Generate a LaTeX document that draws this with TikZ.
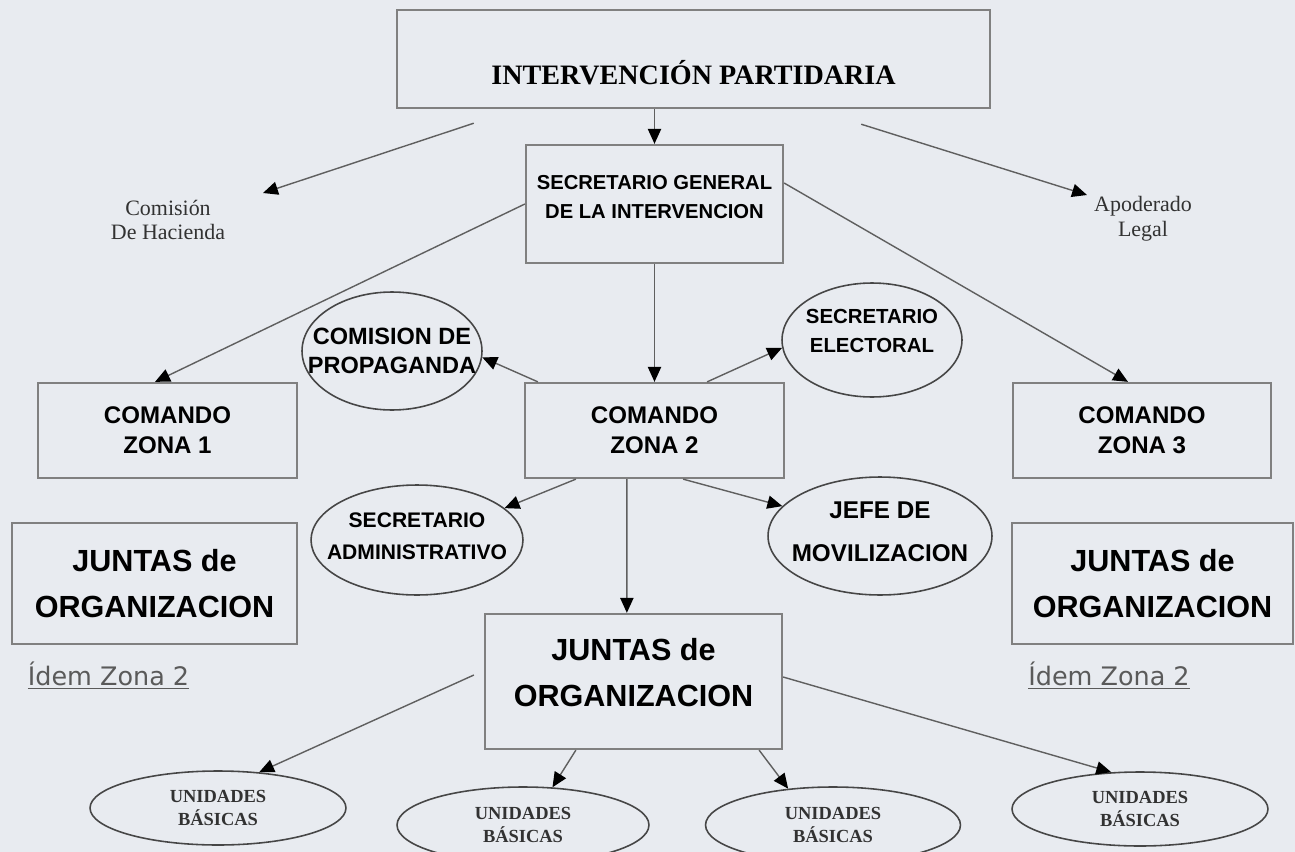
\documentclass[tikz,border=0pt]{standalone}
\usepackage{fontspec}
\setmainfont{Liberation Serif}
\setsansfont{Liberation Sans}
\newfontfamily\idemfont{DejaVu Sans}
\usetikzlibrary{shapes.geometric, arrows.meta, positioning}
\definecolor{fondo}{RGB}{232, 235, 240}
\definecolor{bordecaja}{RGB}{128, 128, 128}
\definecolor{bordeelipse}{RGB}{70, 70, 70}
\definecolor{lineagris}{RGB}{95, 95, 95}
\definecolor{textogris}{RGB}{50, 50, 50}
\definecolor{idemgris}{RGB}{90, 90, 90}
\tikzset{
    % Title box (serif)
    title box/.style={
        rectangle, draw=bordecaja, line width=1.4pt, fill=fondo, inner sep=0pt,
        font=\rmfamily\bfseries\fontsize{16}{19}\selectfont,
        text height=28.8pt, text depth=0pt
    },
    % Command boxes
    zone box/.style={
        rectangle, draw=bordecaja, line width=1.3pt, fill=fondo, inner sep=0pt,
        align=center, font=\sffamily\bfseries\fontsize{13.7}{17}\selectfont
    },
    % Juntas de organizacion
    board box/.style={
        rectangle, draw=bordecaja, line width=1.3pt, fill=fondo, inner sep=0pt,
        align=center, font=\sffamily\bfseries\fontsize{17.4}{26}\selectfont
    },
    % Secretaries around zona 2 (text given as a centred label)
    side ellipse/.style={
        ellipse, draw=bordeelipse, line width=0.9pt, fill=fondo, inner sep=0pt
    },
    ellipse text/.style={
        align=center, inner sep=0pt
    },
    % Unidades basicas
    unit ellipse/.style={
        ellipse, draw=bordeelipse, line width=0.9pt, fill=fondo, inner sep=0pt,
        align=center, text=textogris,
        font=\rmfamily\bfseries\fontsize{10.5}{13}\selectfont
    },
    % Small serif labels
    side label/.style={
        align=center, text=textogris, inner sep=0pt,
        font=\rmfamily\fontsize{12.5}{14}\selectfont
    },
    % Idem labels
    idem label/.style={
        text=idemgris, inner sep=0pt, font=\idemfont\fontsize{14.5}{17}\selectfont
    },
    % Arrows
    flow arrow/.style={
        -{Triangle[length=8.5pt, width=7.5pt, color=black]}, draw=lineagris, line width=0.8pt
    }
}

\begin{document}
\begin{tikzpicture}[x=0.02cm, y=-0.02cm]

    % Background
    \fill[fondo] (0,0) rectangle (1295,852);
    \useasboundingbox (0,0) rectangle (1295,852);

    % Title
    \node[title box, minimum width=11.86cm, minimum height=1.96cm] (intervencion) at (693.5,59) {INTERVENCIÓN PARTIDARIA};

    % Secretario general
    \node[zone box, minimum width=5.14cm, minimum height=2.36cm,
          label={[ellipse text, yshift=0.13cm, font=\sffamily\bfseries\fontsize{11.5}{16.5}\selectfont]center:{SECRETARIO GENERAL\\DE LA INTERVENCION}}] (secretario) at (654.5,204) {};

    % Side labels
    \node[side label] (hacienda) at (168,220) {Comisión\\De Hacienda};
    \node[side label] (apoderado) at (1143,219) {Apoderado\\Legal};

    % Comandos
    \node[zone box, minimum width=5.18cm, minimum height=1.9cm] (zona1) at (167.5,430.5) {COMANDO\\ZONA 1};
    \node[zone box, minimum width=5.18cm, minimum height=1.9cm] (zona2) at (654.5,430.5) {COMANDO\\ZONA 2};
    \node[zone box, minimum width=5.16cm, minimum height=1.9cm] (zona3) at (1142,430.5) {COMANDO\\ZONA 3};

    % Secretaries of zona 2
    \node[side ellipse, minimum width=3.6cm, minimum height=2.36cm,
          label={[ellipse text, font=\sffamily\bfseries\fontsize{13.4}{16.5}\selectfont]center:{COMISION DE\\PROPAGANDA}}] (propaganda) at (392,351) {};
    \node[side ellipse, minimum width=3.6cm, minimum height=2.28cm,
          label={[ellipse text, yshift=0.18cm, font=\sffamily\bfseries\fontsize{11.6}{16}\selectfont]center:{SECRETARIO\\ELECTORAL}}] (electoral) at (872,340) {};
    \node[side ellipse, minimum width=4.24cm, minimum height=2.2cm,
          label={[ellipse text, yshift=0.08cm, font=\sffamily\bfseries\fontsize{12}{18}\selectfont]center:{SECRETARIO\\ADMINISTRATIVO}}] (administrativo) at (417,540) {};
    \node[side ellipse, minimum width=4.48cm, minimum height=2.36cm,
          label={[ellipse text, yshift=0.09cm, font=\sffamily\bfseries\fontsize{13.8}{24.5}\selectfont]center:{JEFE DE\\MOVILIZACION}}] (movilizacion) at (880,536) {};

    % Juntas de organizacion
    \node[board box, minimum width=5.7cm, minimum height=2.42cm] (junta1) at (154.5,583.5) {JUNTAS de\\ORGANIZACION};
    \node[board box, minimum width=5.94cm, minimum height=2.7cm,
          label={[ellipse text, yshift=0.18cm, font=\sffamily\bfseries\fontsize{17.4}{26}\selectfont]center:{JUNTAS de\\ORGANIZACION}}] (junta2) at (633.5,681.5) {};
    \node[board box, minimum width=5.62cm, minimum height=2.42cm] (junta3) at (1152.5,583.5) {JUNTAS de\\ORGANIZACION};

    \node[idem label] (idem1) at (108.5,676) {\underline{Ídem Zona 2}};
    \node[idem label] (idem3) at (1109,676) {\underline{Ídem Zona 2}};

    % Unidades basicas
    \node[unit ellipse, minimum width=5.12cm, minimum height=1.48cm] (unidad1) at (218,808) {UNIDADES\\BÁSICAS};
    \node[unit ellipse, minimum width=5.04cm, minimum height=1.52cm] (unidad2) at (523,825) {UNIDADES\\BÁSICAS};
    \node[unit ellipse, minimum width=5.1cm, minimum height=1.52cm] (unidad3) at (833,825) {UNIDADES\\BÁSICAS};
    \node[unit ellipse, minimum width=5.12cm, minimum height=1.48cm] (unidad4) at (1140,809) {UNIDADES\\BÁSICAS};

    % Arrows from the title
    \draw[flow arrow] ([xshift=1.56cm, yshift=-0.28cm]intervencion.south west) -- ([xshift=1.9cm, yshift=0.54cm]hacienda.center);
    \draw[flow arrow] ([xshift=-2.6cm, yshift=-0.3cm]intervencion.south east) -- ([xshift=-1.12cm, yshift=0.48cm]apoderado.center);
    \draw[flow arrow] (intervencion.south -| secretario.north) -- (secretario.north);

    % Arrows to the comandos
    \draw[flow arrow] (secretario.west) -- ([xshift=-0.25cm]zona1.north);
    \draw[flow arrow] ([yshift=0.42cm]secretario.east) -- ([xshift=-0.28cm]zona3.north);
    \draw[flow arrow] (secretario.south) -- (zona2.north);

    % Arrows around zona 2
    \draw[flow arrow] ([xshift=0.28cm]zona2.north west) -- (propaganda.-4);
    \draw[flow arrow] ([xshift=-1.56cm]zona2.north east) -- (electoral.185);
    \draw[flow arrow] ([xshift=1.04cm]zona2.south west) -- (administrativo.20);
    \draw[flow arrow] ([xshift=-2.04cm]zona2.south east) -- (movilizacion.163);
    \draw[flow arrow] ([xshift=2.06cm]zona2.south west) -- ([xshift=2.86cm]junta2.north west);

    % Arrows to the unidades basicas
    \draw[flow arrow] ([xshift=-0.2cm, yshift=0.13cm]junta2.west) -- (unidad1.41);
    \draw[flow arrow] ([xshift=1.84cm]junta2.south west) -- (unidad2.52);
    \draw[flow arrow] ([xshift=-0.48cm]junta2.south east) -- (unidad3.141);
    \draw[flow arrow] ([yshift=0.09cm]junta2.east) -- (unidad4.128);

\end{tikzpicture}
\end{document}
